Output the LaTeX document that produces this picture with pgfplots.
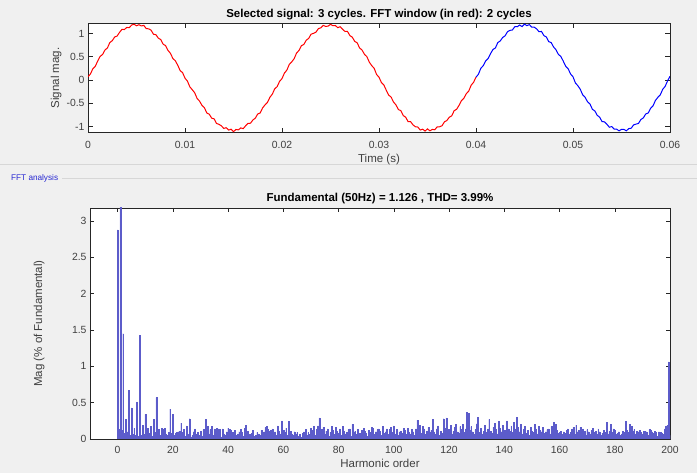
\documentclass[border=0pt]{standalone}
\usepackage{fontspec}
\setmainfont{Liberation Sans}
\usepackage{pgfplots}
\pgfplotsset{compat=1.18}
\usepackage{pgfplotstable}
\definecolor{bg}{RGB}{240,240,240}
\definecolor{axgray}{RGB}{38,38,38}
\definecolor{tickgray}{RGB}{64,64,64}
\definecolor{sepgray}{RGB}{215,215,215}
\definecolor{panelblue}{RGB}{40,40,210}
\definecolor{barfill}{RGB}{160,160,234}
\definecolor{baredge}{RGB}{92,92,202}

\pgfplotstableread{
t y
0 0.070
0.25 0.129
0.5 0.242
0.75 0.294
1 0.409
1.25 0.507
1.5 0.548
1.75 0.645
2 0.689
2.25 0.804
2.5 0.844
2.75 0.924
3 0.944
3.25 1.023
3.5 1.087
3.75 1.084
4 1.130
4.25 1.124
4.5 1.181
4.75 1.197
5 1.165
5.25 1.187
5.5 1.161
5.75 1.174
6 1.105
6.25 1.099
6.5 1.072
6.75 0.983
7 0.974
7.25 0.899
7.5 0.869
7.75 0.769
8 0.739
8.25 0.635
8.5 0.573
8.75 0.462
9 0.414
9.25 0.319
9.5 0.202
9.75 0.159
10 0.040
10.25 -0.024
10.5 -0.147
10.75 -0.209
11 -0.274
11.25 -0.397
11.5 -0.453
11.75 -0.545
12 -0.594
12.25 -0.709
12.5 -0.734
12.75 -0.819
13 -0.834
13.25 -0.933
13.5 -0.952
13.75 -0.984
14 -1.040
14.25 -1.024
14.5 -1.076
14.75 -1.057
15 -1.110
15.25 -1.062
15.5 -1.071
15.75 -1.029
16 -1.045
16.25 -0.984
16.5 -0.932
16.75 -0.928
17 -0.859
17.25 -0.819
17.5 -0.729
17.75 -0.709
18 -0.599
18.25 -0.535
18.5 -0.483
18.75 -0.372
19 -0.304
19.25 -0.189
19.5 -0.142
19.75 -0.029
20 0.030
20.25 0.149
20.5 0.212
20.75 0.334
21 0.389
21.25 0.457
21.5 0.578
21.75 0.635
22 0.739
22.25 0.764
22.5 0.854
22.75 0.894
23 0.984
23.25 1.003
23.5 1.027
23.75 1.104
24 1.120
24.25 1.174
24.5 1.151
24.75 1.157
25 1.195
25.25 1.167
25.5 1.171
25.75 1.124
26 1.145
26.25 1.089
26.5 1.042
26.75 1.043
27 0.954
27.25 0.919
27.5 0.829
27.75 0.799
28 0.689
28.25 0.645
28.5 0.553
28.75 0.502
29 0.384
29.25 0.309
29.5 0.252
29.75 0.119
30 0.060
30.25 -0.054
30.5 -0.107
30.75 -0.219
31 -0.324
31.25 -0.367
31.5 -0.473
31.75 -0.535
32 -0.634
32.25 -0.659
32.5 -0.764
32.75 -0.799
33 -0.894
33.25 -0.893
33.5 -0.962
33.75 -1.004
34 -1.010
34.25 -1.074
34.5 -1.056
34.75 -1.097
35 -1.050
35.25 -1.092
35.5 -1.061
35.75 -1.069
36 -1.005
36.25 -1.004
36.5 -0.982
36.75 -0.898
37 -0.869
37.25 -0.799
37.5 -0.769
37.75 -0.659
38 -0.629
38.25 -0.545
38.5 -0.443
38.75 -0.392
39 -0.294
39.25 -0.239
39.5 -0.112
39.75 -0.049
40 0.060
}\redsig

\pgfplotstableread{
t y
40 0.060
40.25 0.124
40.5 0.252
40.75 0.309
41 0.409
41.25 0.462
41.5 0.568
41.75 0.655
42 0.689
42.25 0.804
42.5 0.839
42.75 0.914
43 0.949
43.25 1.038
43.5 1.067
43.75 1.074
44 1.145
44.25 1.144
44.5 1.181
44.75 1.147
45 1.200
45.25 1.167
45.5 1.191
45.75 1.134
46 1.135
46.25 1.099
46.5 1.037
46.75 1.043
47 0.954
47.25 0.924
47.5 0.824
47.75 0.804
48 0.709
48.25 0.650
48.5 0.548
48.75 0.507
49 0.404
49.25 0.294
49.5 0.242
49.75 0.129
50 0.070
50.25 -0.064
50.5 -0.122
50.75 -0.199
51 -0.319
51.25 -0.372
51.5 -0.468
51.75 -0.515
52 -0.629
52.25 -0.664
52.5 -0.759
52.75 -0.799
53 -0.894
53.25 -0.898
53.5 -0.952
53.75 -1.014
54 -1.000
54.25 -1.054
54.5 -1.056
54.75 -1.092
55 -1.060
55.25 -1.062
55.5 -1.091
55.75 -1.044
56 -1.035
56.25 -0.964
56.5 -0.947
56.75 -0.933
57 -0.849
57.25 -0.814
57.5 -0.729
57.75 -0.709
58 -0.609
58.25 -0.555
58.5 -0.438
58.75 -0.372
59 -0.319
59.25 -0.199
59.5 -0.137
59.75 -0.019
60 0.080
}\bluesig

\pgfplotsset{
  mlab/.style={
    scale only axis,
    axis background/.style={fill=white},
    axis line style={axgray, line width=0.5pt},
    tick style={axgray, line width=0.5pt},
    major tick length=4.5pt,
    tick align=inside,
    xtick pos=both, ytick pos=both,
    tick label style={font=\fontsize{10.4}{12}\selectfont, text=tickgray},
    /pgf/number format/assume math mode=true,
    label style={font=\fontsize{11.5}{13}\selectfont, text=tickgray},
    title style={font=\bfseries\fontsize{11.5}{13}\selectfont, text=black},
  }
}

\begin{document}
\begin{tikzpicture}
\useasboundingbox (0,0) rectangle (697pt,473pt);
\fill[bg] (0,0) rectangle (697pt,473pt);
\draw[sepgray, line width=0.8pt] (0,309pt) -- (697pt,309pt);
\node[anchor=west, inner sep=0pt, font=\fontsize{8.2}{9}\selectfont, text=panelblue] at (11pt,295pt) {FFT analysis};
\draw[sepgray, line width=0.8pt] (62pt,295pt) -- (697pt,295pt);

\begin{axis}[mlab,
  at={(88pt,340.7pt)}, anchor=south west,
  width=582pt, height=108.8pt,
  xmin=0, xmax=60, ymin=-1.123, ymax=1.214,
  xtick={0,10,20,30,40,50,60},
  xticklabels={0,0.01,0.02,0.03,0.04,0.05,0.06},
  xticklabel style={yshift=-5.5pt},
  ytick={-1,-0.5,0,0.5,1},
  title={Selected signal: 3 cycles. FFT window (in red): 2 cycles},
  title style={at={(axis description cs:0.5,1)}, anchor=base, yshift=-0.5pt},
  xlabel={Time (s)},
  xlabel style={at={(axis description cs:0.5,0)}, anchor=base, yshift=-30pt},
  ylabel={Signal mag.},
  ylabel style={at={(axis description cs:-0.045,0.5)}, anchor=south, inner sep=0pt},
]
\addplot[red, line width=1pt] table[x=t, y=y] {\redsig};
\addplot[blue, line width=1pt] table[x=t, y=y] {\bluesig};
\end{axis}

\begin{axis}[mlab,
  at={(90pt,34pt)}, anchor=south west,
  width=580pt, height=231pt,
  xmin=-10, xmax=200, ymin=0, ymax=3.18,
  xtick={0,20,...,200},
  xticklabel style={yshift=-4pt},
  ytick={0,0.5,1,1.5,2,2.5,3},
  title={Fundamental (50Hz) = 1.126 , THD= 3.99\%},
  title style={at={(axis description cs:0.5,1)}, anchor=base, yshift=0pt},
  xlabel={Harmonic order},
  xlabel style={at={(axis description cs:0.5,0)}, anchor=base, yshift=-29pt},
  ylabel={Mag (\% of Fundamental)},
  ylabel style={at={(axis description cs:-0.078,0.5)}, anchor=south, inner sep=0pt},
]
\addplot[ybar, bar width=0.3, fill=barfill, draw=baredge, line width=0.3pt, mark=none] coordinates {
(0,2.88)(0.5,0.13)(1,100)(1.5,0.12)(2,1.45)(2.5,0.08)(3,0.27)(3.5,0.1)(4,0.67)(4.5,0.05)
(5,0.43)(5.5,0.06)(6,0.15)(6.5,0.05)(7,0.51)(7.5,0.04)(8,1.43)(8.5,0.05)(9,0.19)(9.5,0.06)
(10,0.34)(10.5,0.03)(11,0.15)(11.5,0.08)(12,0.17)(12.5,0.04)(13,0.27)(13.5,0.09)(14,0.57)(14.5,0.08)
(15,0.13)(15.5,0.05)(16,0.15)(16.5,0.14)(17,0.15)(17.5,0.06)(18,0.05)(18.5,0.09)(19,0.41)(19.5,0.08)
(20,0.34)(20.5,0.05)(21,0.08)(21.5,0.09)(22,0.10)(22.5,0.11)(23,0.22)(23.5,0.09)(24,0.13)(24.5,0.04)
(25,0.18)(25.5,0.07)(26,0.28)(26.5,0.03)(27,0.05)(27.5,0.1)(28,0.14)(28.5,0.06)(29,0.09)(29.5,0.05)
(30,0.11)(30.5,0.04)(31,0.13)(31.5,0.05)(32,0.27)(32.5,0.17)(33,0.07)(33.5,0.13)(34,0.17)(34.5,0.05)
(35,0.14)(35.5,0.06)(36,0.15)(36.5,0.14)(37,0.13)(37.5,0.03)(38,0.14)(38.5,0.07)(39,0.05)(39.5,0.1)
(40,0.15)(40.5,0.13)(41,0.12)(41.5,0.09)(42,0.08)(42.5,0.12)(43,0.05)(43.5,0.07)(44,0.1)(44.5,0.13)
(45,0.09)(45.5,0.04)(46,0.15)(46.5,0.19)(47,0.11)(47.5,0.06)(48,0.06)(48.5,0.08)(49,0.12)(49.5,0.04)
(50,0.05)(50.5,0.09)(51,0.07)(51.5,0.05)(52,0.12)(52.5,0.08)(53,0.1)(53.5,0.16)(54,0.17)(54.5,0.13)
(55,0.11)(55.5,0.12)(56,0.14)(56.5,0.08)(57,0.1)(57.5,0.05)(58,0.18)(58.5,0.11)(59,0.07)(59.5,0.25)
(60,0.12)(60.5,0.09)(61,0.15)(61.5,0.05)(62,0.24)(62.5,0.11)(63,0.07)(63.5,0.05)(64,0.1)(64.5,0.06)
(65,0.09)(65.5,0.04)(66,0.06)(66.5,0.02)(67,0.08)(67.5,0.1)(68,0.13)(68.5,0.05)(69,0.09)(69.5,0.06)
(70,0.15)(70.5,0.12)(71,0.17)(71.5,0.05)(72,0.13)(72.5,0.18)(73,0.29)(73.5,0.09)(74,0.13)(74.5,0.16)
(75,0.06)(75.5,0.11)(76,0.14)(76.5,0.04)(77,0.09)(77.5,0.17)(78,0.12)(78.5,0.06)(79,0.16)(79.5,0.11)
(80,0.08)(80.5,0.14)(81,0.05)(81.5,0.17)(82,0.11)(82.5,0.07)(83,0.09)(83.5,0.13)(84,0.14)(84.5,0.04)
(85,0.2)(85.5,0.1)(86,0.11)(86.5,0.06)(87,0.13)(87.5,0.08)(88,0.05)(88.5,0.12)(89,0.15)(89.5,0.11)
(90,0.08)(90.5,0.04)(91,0.12)(91.5,0.09)(92,0.16)(92.5,0.15)(93,0.06)(93.5,0.1)(94,0.13)(94.5,0.14)
(95,0.11)(95.5,0.05)(96,0.17)(96.5,0.08)(97,0.1)(97.5,0.14)(98,0.06)(98.5,0.13)(99,0.16)(99.5,0.09)
(100,0.18)(100.5,0.07)(101,0.13)(101.5,0.05)(102,0.1)(102.5,0.11)(103,0.08)(103.5,0.15)(104,0.12)(104.5,0.06)
(105,0.15)(105.5,0.09)(106,0.07)(106.5,0.13)(107,0.1)(107.5,0.05)(108,0.14)(108.5,0.26)(109,0.12)(109.5,0.19)
(110,0.08)(110.5,0.17)(111,0.14)(111.5,0.06)(112,0.11)(112.5,0.16)(113,0.09)(113.5,0.12)(114,0.27)(114.5,0.1)
(115,0.07)(115.5,0.14)(116,0.18)(116.5,0.05)(117,0.11)(117.5,0.08)(118,0.28)(118.5,0.15)(119,0.29)(119.5,0.1)
(120,0.13)(120.5,0.19)(121,0.07)(121.5,0.11)(122,0.16)(122.5,0.2)(123,0.1)(123.5,0.08)(124,0.17)(124.5,0.13)
(125,0.2)(125.5,0.09)(126,0.14)(126.5,0.37)(127,0.35)(127.5,0.12)(128,0.17)(128.5,0.1)(129,0.06)(129.5,0.13)
(130,0.21)(130.5,0.3)(131,0.09)(131.5,0.15)(132,0.07)(132.5,0.11)(133,0.19)(133.5,0.09)(134,0.14)(134.5,0.27)
(135,0.11)(135.5,0.08)(136,0.16)(136.5,0.22)(137,0.13)(137.5,0.07)(138,0.24)(138.5,0.15)(139,0.1)(139.5,0.19)
(140,0.12)(140.5,0.08)(141,0.25)(141.5,0.14)(142,0.11)(142.5,0.18)(143,0.09)(143.5,0.23)(144,0.14)(144.5,0.3)
(145,0.16)(145.5,0.1)(146,0.2)(146.5,0.07)(147,0.13)(147.5,0.17)(148,0.08)(148.5,0.12)(149,0.05)(149.5,0.16)
(150,0.11)(150.5,0.09)(151,0.2)(151.5,0.14)(152,0.07)(152.5,0.17)(153,0.12)(153.5,0.1)(154,0.16)(154.5,0.08)
(155,0.1)(155.5,0.13)(156,0.14)(156.5,0.07)(157,0.17)(157.5,0.11)(158,0.23)(158.5,0.2)(159,0.12)(159.5,0.08)
(160,0.09)(160.5,0.11)(161,0.06)(161.5,0.1)(162,0.08)(162.5,0.12)(163,0.14)(163.5,0.07)(164,0.09)(164.5,0.13)
(165,0.16)(165.5,0.06)(166,0.19)(166.5,0.1)(167,0.12)(167.5,0.16)(168,0.08)(168.5,0.14)(169,0.11)(169.5,0.05)
(170,0.13)(170.5,0.1)(171,0.07)(171.5,0.12)(172,0.15)(172.5,0.09)(173,0.11)(173.5,0.06)(174,0.14)(174.5,0.1)
(175,0.05)(175.5,0.08)(176,0.12)(176.5,0.09)(177,0.23)(177.5,0.07)(178,0.11)(178.5,0.2)(179,0.09)(179.5,0.14)
(180,0.12)(180.5,0.06)(181,0.08)(181.5,0.1)(182,0.05)(182.5,0.07)(183,0.11)(183.5,0.09)(184,0.24)(184.5,0.12)
(185,0.09)(185.5,0.2)(186,0.17)(186.5,0.11)(187,0.13)(187.5,0.07)(188,0.11)(188.5,0.1)(189,0.12)(189.5,0.09)
(190,0.07)(190.5,0.11)(191,0.11)(191.5,0.1)(192,0.05)(192.5,0.13)(193,0.12)(193.5,0.1)(194,0.08)(194.5,0.11)
(195,0.09)(195.5,0.04)(196,0.1)(196.5,0.09)(197,0.08)(197.5,0.06)(198,0.14)(198.5,0.17)(199,0.19)(199.5,1.06)
(200,0.05)
};
\end{axis}
\end{tikzpicture}
\end{document}
